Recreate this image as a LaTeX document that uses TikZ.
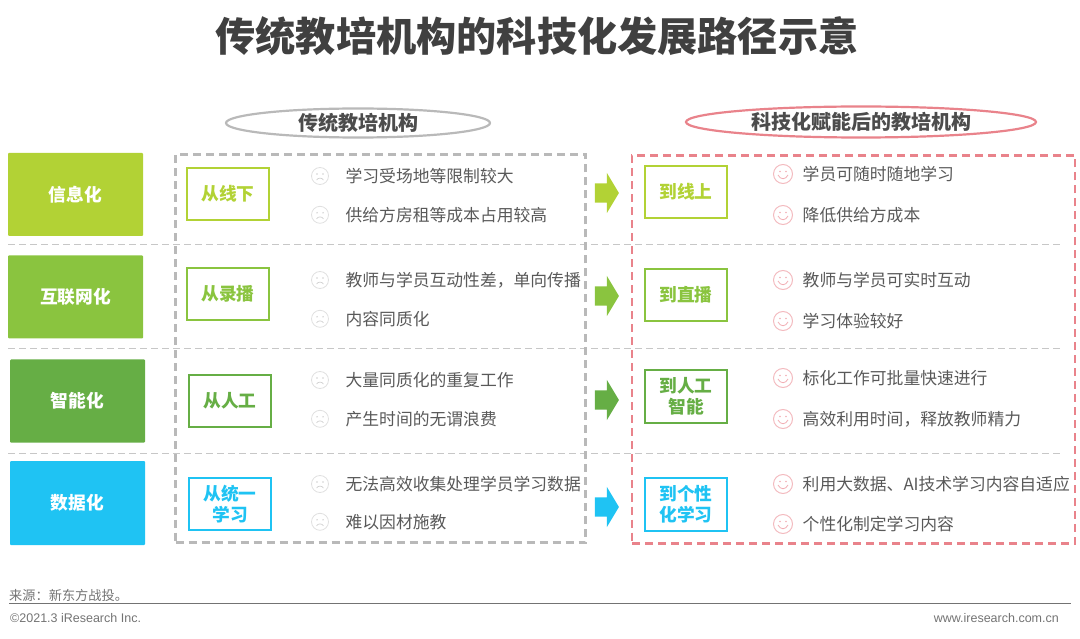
\documentclass[tikz,border=0pt]{standalone}
\usepackage{fontspec}
\setmainfont{Noto Sans CJK SC}
\newfontfamily\latinfont{Liberation Sans}
\usetikzlibrary{shapes.geometric, shapes.arrows, positioning}
\definecolor{limec}{HTML}{B2D235}
\definecolor{leafc}{HTML}{8AC43F}
\definecolor{grassc}{HTML}{66AE45}
\definecolor{skyc}{HTML}{1FC3F3}
\definecolor{rosec}{HTML}{E9838B}
\definecolor{framec}{HTML}{B9B9B9}
\definecolor{bodyc}{HTML}{595959}
\tikzset{
    stage/.style={rectangle, rounded corners=1pt, minimum height=83pt, minimum width=135pt, text=white, font=\fontsize{17.7}{20}\selectfont\bfseries},
    tag/.style={rectangle, draw=#1, line width=2.6pt, text=#1, minimum height=52pt, minimum width=82pt, align=center, inner sep=0pt, font=\fontsize{17.7}{21}\selectfont\bfseries},
    frame/.style={rectangle, draw=#1, line width=2.7pt, dash pattern=on 8pt off 5pt},
    banner/.style={ellipse, draw=#1, line width=2.2pt, inner sep=0pt, text=bodyc!85!black, font=\fontsize{20}{24}\selectfont\bfseries},
    shift arrow/.style={single arrow, fill=#1, minimum height=24pt, single arrow head extend=10.5pt, single arrow head indent=0pt, single arrow tip angle=118, inner xsep=0pt, inner ysep=9.5pt},
    item/.style={inner sep=0pt, text=bodyc, font=\fontsize{16.8}{20}\selectfont},
    sadface/.style={circle, draw=black!12, line width=.8pt, minimum size=17pt, inner sep=0pt, path picture={
        \fill[black!18, shift={(path picture bounding box.center)}] (-3,-2) circle (.8) (3,-2) circle (.8);
        \draw[black!18, line width=.7pt, shift={(path picture bounding box.center)}] (-3.5,4) .. controls (-2,1.5) and (2,1.5) .. (3.5,4);}},
    happyface/.style={circle, draw=rosec!55, line width=1pt, minimum size=19pt, inner sep=0pt, path picture={
        \fill[rosec!65, shift={(path picture bounding box.center)}] (-3,-2.5) circle (.8) (3,-2.5) circle (.8);
        \draw[rosec!65, line width=.8pt, shift={(path picture bounding box.center)}] (-5,1) .. controls (-2.5,6) and (2.5,6) .. (5,1);}},
    divider/.style={draw=framec!80, line width=1pt, dash pattern=on 7pt off 4pt},
    note/.style={inner sep=0pt, text=black!55},
}
\begin{document}
\begin{tikzpicture}[x=1pt, y=-1pt]
        \useasboundingbox (0,0) rectangle (1080,639);

        % Title
        \node[inner sep=0pt, text=black!75, font=\fontsize{40.2}{46}\selectfont\bfseries] (title) at (537,36) {传统教培机构的科技化发展路径示意};

        % Column heads
        \node[banner=framec, minimum width=264pt, minimum height=29pt] (oldhead) at (358,123) {传统教培机构};
        \node[banner=rosec, minimum width=350pt, minimum height=31pt] (newhead) at (861,122) {科技化赋能后的教培机构};

        % Row dividers
        \coordinate (sepAl) at (8,245);
        \coordinate (sepAr) at (1060,245);
        \coordinate (sepBl) at (8,349);
        \coordinate (sepBr) at (1060,349);
        \coordinate (sepCl) at (8,453);
        \coordinate (sepCr) at (1060,453);
        \draw[divider] (sepAl) -- (sepAr);
        \draw[divider] (sepBl) -- (sepBr);
        \draw[divider] (sepCl) -- (sepCr);

        % Dashed frames
        \node[frame=framec, minimum width=410pt, minimum height=388pt] (oldframe) at (380.5,348.5) {};
        \node[frame=rosec, minimum width=443pt, minimum height=388pt] (newframe) at (853.5,349.5) {};

        % Stages
        \node[stage, fill=limec] (info) at (75.5,194.5) {信息化};
        \node[stage, fill=leafc] (web) at (75.5,297) {互联网化};
        \node[stage, fill=grassc] (smart) at (77.5,401) {智能化};
        \node[stage, fill=skyc, minimum height=84pt] (data) at (77.5,503) {数据化};

        % From
        \node[tag=limec] (fromA) at (228,194) {从线下};
        \node[tag=leafc] (fromB) at (228,294) {从录播};
        \node[tag=grassc] (fromC) at (230,401) {从人工};
        \node[tag=skyc] (fromD) at (230,504) {从统一\\学习};

        % Shift arrows
        \node[shift arrow=limec] (shiftA) at (604,193) {};
        \node[shift arrow=leafc] (shiftB) at (604,296) {};
        \node[shift arrow=grassc] (shiftC) at (604,400) {};
        \node[shift arrow=skyc] (shiftD) at (604,507) {};

        % To
        \node[tag=limec] (toA) at (686,192) {到线上};
        \node[tag=leafc] (toB) at (686,295) {到直播};
        \node[tag=grassc, minimum height=53pt] (toC) at (686,396.5) {到人工\\智能};
        \node[tag=skyc, minimum height=53pt] (toD) at (686,504.5) {到个性\\化学习};

        % Old side items
        \node[sadface] (sadA) at (320,176) {};
        \node[sadface, below=21pt of sadA] (sadAb) {};
        \node[item, right=16.5pt of sadA] (oldA) {学习受场地等限制较大};
        \node[item, right=16.5pt of sadAb] (oldAb) {供给方房租等成本占用较高};

        \node[sadface] (sadB) at (320,280) {};
        \node[sadface, below=21pt of sadB] (sadBb) {};
        \node[item, right=16.5pt of sadB] (oldB) {教师与学员互动性差，单向传播};
        \node[item, right=16.5pt of sadBb] (oldBb) {内容同质化};

        \node[sadface] (sadC) at (320,380) {};
        \node[sadface, below=21pt of sadC] (sadCb) {};
        \node[item, right=16.5pt of sadC] (oldC) {大量同质化的重复工作};
        \node[item, right=16.5pt of sadCb] (oldCb) {产生时间的无谓浪费};

        \node[sadface] (sadD) at (320,484) {};
        \node[sadface, below=20pt of sadD] (sadDb) {};
        \node[item, right=16.5pt of sadD] (oldD) {无法高效收集处理学员学习数据};
        \node[item, right=16.5pt of sadDb] (oldDb) {难以因材施教};

        % New side items
        \node[happyface] (happyA) at (783,174) {};
        \node[happyface, below=21pt of happyA] (happyAb) {};
        \node[item, right=9.5pt of happyA] (newA) {学员可随时随地学习};
        \node[item, right=9.5pt of happyAb] (newAb) {降低供给方成本};

        \node[happyface] (happyB) at (783,280) {};
        \node[happyface, below=21pt of happyB] (happyBb) {};
        \node[item, right=9.5pt of happyB] (newB) {教师与学员可实时互动};
        \node[item, right=9.5pt of happyBb] (newBb) {学习体验较好};

        \node[happyface] (happyC) at (783,378) {};
        \node[happyface, below=21pt of happyC] (happyCb) {};
        \node[item, right=9.5pt of happyC] (newC) {标化工作可批量快速进行};
        \node[item, right=9.5pt of happyCb] (newCb) {高效利用时间，释放教师精力};

        \node[happyface] (happyD) at (783,484) {};
        \node[happyface, below=20pt of happyD] (happyDb) {};
        \node[item, right=9.5pt of happyD] (newD) {利用大数据、AI技术学习内容自适应};
        \node[item, right=9.5pt of happyDb] (newDb) {个性化制定学习内容};

        % Footer
        \coordinate (rulel) at (9,603.5);
        \coordinate (ruler) at (1071,603.5);
        \draw[black!55, line width=1pt] (rulel) -- (ruler);
        \node[note, anchor=west, font=\fontsize{13.2}{15}\selectfont] (source) at (9,595) {来源：新东方战投。};
        \node[note, anchor=west, font=\fontsize{12.5}{15}\selectfont\latinfont] (copyright) at (10,618) {©2021.3 iResearch Inc.};
        \node[note, anchor=east, font=\fontsize{12.5}{15}\selectfont\latinfont] (website) at (1059,618) {www.iresearch.com.cn};
    \end{tikzpicture}
\end{document}
